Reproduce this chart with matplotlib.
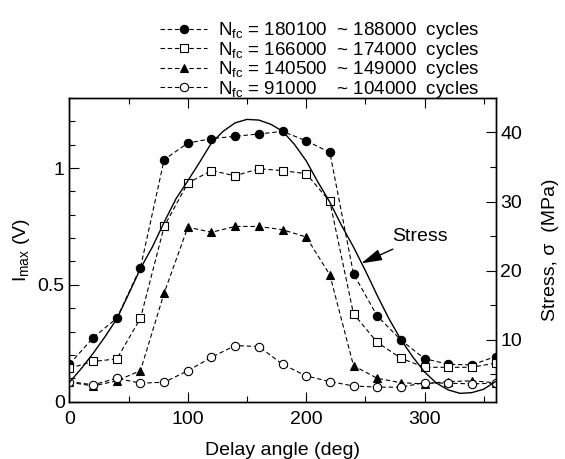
"""
I_max vs delay angle for four fatigue-life groups, with the applied stress on a twin axis.
"""

import matplotlib

matplotlib.use("Agg")
import matplotlib.pyplot as plt
from matplotlib.ticker import MultipleLocator

plt.rcParams["font.family"] = ["Liberation Sans", "DejaVu Sans"]
plt.rcParams["mathtext.default"] = "regular"

angle = [0, 20, 40, 60, 80, 100, 120, 140, 160, 180,
         200, 220, 240, 260, 280, 300, 320, 340, 360]

imax_180k = [0.160, 0.274, 0.357, 0.574, 1.036, 1.107, 1.126, 1.136, 1.146, 1.157,
             1.117, 1.067, 0.547, 0.367, 0.264, 0.184, 0.160, 0.157, 0.193]
imax_166k = [0.143, 0.172, 0.183, 0.357, 0.750, 0.936, 0.989, 0.967, 0.997, 0.989,
             0.976, 0.857, 0.376, 0.254, 0.186, 0.147, 0.147, 0.147, 0.165]
imax_140k = [0.083, 0.067, 0.089, 0.133, 0.465, 0.747, 0.725, 0.750, 0.750, 0.736,
             0.705, 0.543, 0.154, 0.100, 0.081, 0.076, 0.086, 0.089, 0.081]
imax_91k = [0.086, 0.072, 0.100, 0.079, 0.083, 0.132, 0.190, 0.240, 0.236, 0.160,
            0.110, 0.086, 0.067, 0.062, 0.062, 0.081, 0.079, 0.076, 0.079]

labels = [
    "N$_{fc}$ = 180100  ~ 188000  cycles",
    "N$_{fc}$ = 166000  ~ 174000  cycles",
    "N$_{fc}$ = 140500  ~ 149000  cycles",
    "N$_{fc}$ = 91000    ~ 104000  cycles",
]

stress_angle = list(range(0, 361, 10))
stress = [3.8, 5.8, 8.0, 10.4, 13.0, 16.6, 20.3, 23.4, 27.0, 30.4,
          33.0, 35.7, 38.5, 40.2, 41.4, 41.9, 41.8, 41.2, 40.2, 38.3,
          35.9, 32.8, 29.9, 26.5, 23.4, 20.0, 16.4, 13.0, 10.0, 7.5,
          5.3, 3.7, 2.7, 2.2, 2.3, 2.8, 3.9]


def main() -> None:
    fig = plt.figure(figsize=(5.65, 4.59), dpi=100)
    ax = fig.add_axes([0.123, 0.125, 0.754, 0.6615])
    ax2 = ax.twinx()

    styles = [
        (imax_180k, "o", "k"),
        (imax_166k, "s", "white"),
        (imax_140k, "^", "k"),
        (imax_91k, "o", "white"),
    ]
    handles = []
    for (vals, mk, fc), lab in zip(styles, labels):
        h, = ax.plot(angle, vals, linestyle=(0, (4, 2.5)), color="k", linewidth=0.8,
                     marker=mk, markerfacecolor=fc, markeredgecolor="k",
                     markersize=6 if mk != "s" else 5.6, markeredgewidth=0.8,
                     label=lab, zorder=3)
        handles.append(h)

    ax2.plot(stress_angle, stress, color="k", linewidth=1.0)

    ax.set_xlim(0, 360)
    ax.set_ylim(0, 1.3)
    ax2.set_ylim(1, 45)

    ax.xaxis.set_major_locator(MultipleLocator(100))
    ax.xaxis.set_minor_locator(MultipleLocator(50))
    ax.yaxis.set_minor_locator(MultipleLocator(0.1))
    ax.set_yticks([0, 0.5, 1])
    ax.set_yticklabels(["0", "0.5", "1"])
    ax2.yaxis.set_major_locator(MultipleLocator(10))
    ax2.yaxis.set_minor_locator(MultipleLocator(5))

    for a in (ax, ax2):
        a.tick_params(which="both", direction="in", top=True, labelsize=14, width=0.8)
        a.tick_params(which="major", length=7)
        a.tick_params(which="minor", length=4)
        for sp in a.spines.values():
            sp.set_linewidth(1.0)
    ax.tick_params(axis="y", right=False)
    ax.tick_params(axis="x", pad=7)

    ax.set_xlabel("Delay angle (deg)", fontsize=14, labelpad=10)
    ax.set_ylabel("I$_{max}$ (V)", fontsize=14, labelpad=4)
    ax2.set_ylabel("Stress, σ  (MPa)", fontsize=14, labelpad=14)

    ax.annotate("Stress", xy=(246.6, 0.592), xytext=(273, 0.706),
                fontsize=14, ha="left", va="center",
                arrowprops=dict(arrowstyle="-|>,head_length=0.9,head_width=0.25",
                                color="k", lw=1.0, shrinkA=2, shrinkB=0))

    fig.legend(handles=handles, loc="upper left",
               bbox_to_anchor=(151 / 565, 1 - 11 / 459), frameon=False,
               fontsize=13.5, handlelength=2.5, handletextpad=0.6,
               labelspacing=-0.08, borderpad=0.0)

    fig.savefig("out.png", dpi=100)
    plt.close(fig)


if __name__ == "__main__":
    main()
